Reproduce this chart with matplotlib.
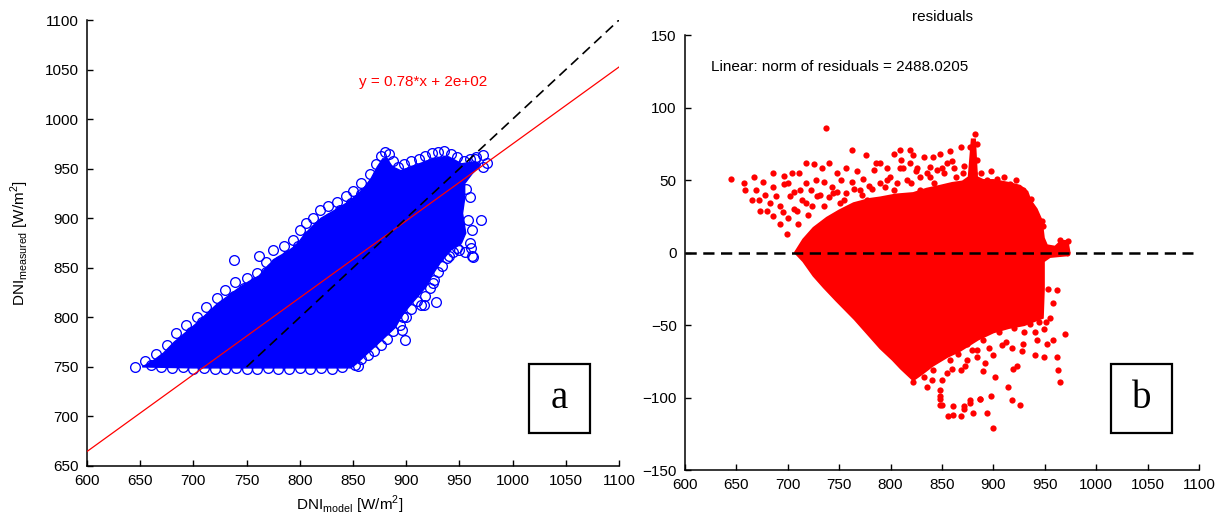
import matplotlib
matplotlib.use("Agg")
import matplotlib.pyplot as plt
from matplotlib.patches import Polygon, Rectangle

plt.rcParams['font.family'] = ['Liberation Sans', 'DejaVu Sans']
plt.rcParams['mathtext.fontset'] = 'custom'
plt.rcParams['mathtext.rm'] = 'Liberation Sans'

# ================= Panel (a): DNI measured vs model =================
x_ticks = [600, 650, 700, 750, 800, 850, 900, 950, 1000, 1050, 1100]
a_y_ticks = [650, 700, 750, 800, 850, 900, 950, 1000, 1050, 1100]

# outline of the solid (saturated) part of the cloud, (model, measured)
a_core = [(652, 750), (662, 756), (672, 764), (682, 775), (692, 784), (702, 793),
          (712, 803), (722, 813), (732, 821), (742, 829), (752, 836), (762, 842),
          (770, 852), (778, 860), (788, 866), (797, 873), (804, 883), (812, 892),
          (820, 900), (828, 905), (836, 910), (845, 916), (852, 922), (860, 930),
          (867, 940), (873, 952), (878, 960), (882, 960), (887, 952), (895, 948),
          (910, 954), (925, 960), (940, 962), (952, 955), (965, 957), (970, 954),
          (962, 945), (955, 935), (955, 920), (953, 905), (956, 885), (952, 875),
          (942, 868), (932, 855), (924, 842), (918, 830), (910, 820), (902, 810),
          (895, 800), (890, 790), (882, 782), (875, 775), (868, 768), (860, 760),
          (853, 753), (848, 749), (800, 749), (750, 749), (700, 749)]

# circles in the fringe above / left of the core
a_upper = [(645, 750), (655, 756), (665, 763), (675, 772), (684, 784), (693, 792),
           (703, 800), (712, 810), (722, 820), (730, 828), (739, 836), (738, 858),
           (750, 840), (760, 845), (762, 862), (768, 856), (775, 868), (785, 872),
           (794, 878), (800, 888), (806, 895), (812, 900), (819, 908), (827, 912),
           (835, 916), (843, 922), (850, 928), (858, 936), (866, 945), (872, 955),
           (876, 963), (880, 967), (884, 965), (888, 958), (892, 952), (898, 955),
           (905, 958), (912, 960), (918, 963), (924, 966), (930, 967), (936, 968),
           (942, 965), (948, 962), (954, 958), (960, 960), (966, 962), (972, 964),
           (660, 752), (670, 756), (680, 766), (690, 776), (698, 785), (708, 795),
           (718, 804), (728, 812), (738, 822), (748, 830), (758, 836), (768, 846),
           (778, 855), (788, 862), (798, 872), (808, 882), (818, 892), (828, 900),
           (838, 908), (848, 915), (858, 924), (868, 934), (874, 944), (880, 952),
           (885, 945)]

# circles along the bottom (measured ~ 750)
a_bottom = [(670, 750), (680, 749), (690, 750), (700, 748), (710, 749), (720, 748),
            (730, 748), (740, 749), (750, 748), (760, 748), (770, 749), (780, 748),
            (790, 748), (800, 749), (810, 748), (820, 749), (830, 748), (840, 750)]

# circles in the sparser fringe below / right of the core
a_lower = [(852, 752), (858, 758), (864, 762), (870, 766), (876, 772), (882, 778),
           (888, 786), (894, 792), (897, 800), (899, 777), (905, 808), (910, 816),
           (914, 812), (918, 822), (922, 830), (926, 838), (928, 815), (930, 846),
           (934, 852), (938, 860), (944, 866), (948, 870), (955, 866), (962, 862),
           (960, 875), (962, 888), (958, 898), (970, 898), (960, 921), (956, 930),
           (972, 952), (976, 956), (965, 960), (855, 751), (900, 800), (896, 787),
           (917, 812), (925, 835), (940, 862), (950, 868), (961, 870), (963, 861)]

fit_slope = 0.776
fit_intercept = 199.0
fit_x = [600, 1100]
one_to_one = [750, 1100]

# ================= Panel (b): residuals =================
b_y_ticks = [-150, -100, -50, 0, 50, 100, 150]

b_core = [(707, 0), (715, 9), (725, 17), (738, 24), (750, 29), (764, 34), (780, 37),
          (790, 38), (805, 40), (822, 41), (835, 44), (848, 46), (860, 48), (870, 49),
          (876, 52), (879, 78), (882, 78), (884, 52), (890, 50), (900, 50), (915, 48),
          (926, 46), (933, 42), (936, 36), (942, 30), (947, 22), (949, 10), (952, 5),
          (960, 4), (966, 8), (972, 8), (974, 0), (970, -2), (955, -3), (949, -6),
          (949, -25), (948, -45), (930, -50), (915, -52), (900, -55), (885, -60),
          (867, -68), (855, -72), (841, -78), (830, -84), (822, -88), (810, -80),
          (802, -74), (790, -66), (780, -58), (765, -46), (747, -33), (735, -24),
          (725, -16), (715, -6)]

b_upper = [(645, 51), (657, 48), (658, 43), (667, 52), (669, 43), (665, 36), (672, 36),
           (676, 49), (678, 40), (686, 55), (686, 45), (689, 39), (696, 53), (696, 47),
           (704, 55), (711, 55), (718, 62), (725, 61), (733, 58), (740, 62), (737, 86),
           (762, 71), (776, 67), (718, 48), (727, 50), (735, 49), (743, 45), (752, 50),
           (762, 49), (773, 51), (784, 57), (790, 62), (796, 58), (803, 68), (809, 71),
           (819, 71), (822, 67), (809, 58), (819, 62), (829, 52), (841, 66), (845, 57),
           (673, 29), (680, 29), (686, 25), (692, 20), (699, 13), (692, 32), (702, 39),
           (709, 29), (712, 43), (718, 34), (728, 39), (735, 32), (744, 41), (751, 34),
           (757, 41), (770, 43), (777, 36), (790, 48), (803, 43), (816, 50), (829, 43),
           (835, 55), (842, 48), (786, 62), (812, 58), (799, 52), (832, 66), (848, 68),
           (858, 70), (868, 73), (877, 73), (882, 82), (884, 75), (884, 64), (881, 55),
           (838, 59), (855, 62), (864, 52), (894, 50), (903, 51), (916, 47), (929, 43),
           (937, 37), (937, 32), (947, 22), (948, 18), (939, 7), (965, 9), (973, 8),
           (972, 0), (952, 0), (700, 48), (706, 42), (683, 34), (723, 43), (748, 55),
           (757, 58), (767, 56), (779, 46), (795, 45), (810, 64), (825, 56), (852, 55),
           (871, 60), (860, 63), (710, 20), (720, 26), (714, 36), (724, 32), (731, 40),
           (740, 38), (748, 42), (755, 36), (764, 44), (772, 40), (782, 44), (796, 50),
           (806, 48), (820, 48), (826, 58), (838, 52), (850, 58), (862, 58), (870, 55),
           (888, 55), (898, 56), (910, 52), (922, 50), (700, 24), (706, 30), (695, 28)]

b_lower = [(822, -89), (835, -93), (848, -95), (848, -101), (848, -105), (861, -106),
           (856, -113), (871, -106), (868, -113), (877, -102), (880, -111), (887, -101),
           (894, -111), (900, -121), (898, -99), (900, -71), (884, -67), (874, -74),
           (868, -81), (855, -83), (841, -81), (835, -76), (825, -74), (816, -79),
           (822, -67), (848, -70), (861, -65), (874, -63), (884, -56), (897, -49),
           (881, -49), (868, -53), (842, -60), (962, -26), (970, -56), (958, -60),
           (952, -63), (962, -72), (963, -81), (965, -89), (926, -105), (918, -102),
           (914, -93), (919, -80), (923, -78), (887, -101), (877, -104), (871, -108),
           (861, -112), (850, -105), (848, -99), (879, -67), (940, -71), (949, -72),
           (929, -63), (936, -49), (949, -53), (913, -47), (926, -48), (897, -40),
           (919, -40), (934, -42), (905, -55), (912, -62), (890, -60), (930, -55),
           (942, -60), (920, -52), (858, -74), (866, -70), (832, -86), (892, -76),
           (905, -48), (944, -48), (955, -45), (958, -35), (953, -25), (908, -64),
           (896, -66), (884, -72), (872, -78), (860, -80), (850, -88), (840, -88),
           (928, -68), (918, -66), (940, -55), (951, -48), (902, -86), (890, -82)]

b_zero_x = [600, 1094]
b_zero_y = [0, 0]


def unzip(pairs):
    return [p[0] for p in pairs], [p[1] for p in pairs]


# ================= Figure =================
fig = plt.figure(figsize=(12.23, 5.24), dpi=100)
ax1 = fig.add_axes([0.0711, 0.1107, 0.435, 0.851])
ax2 = fig.add_axes([0.5601, 0.103, 0.4203, 0.830])

blue = '#0000ff'
red = '#ff0000'

for ax in (ax1, ax2):
    for s in ('top', 'right'):
        ax.spines[s].set_visible(False)
    for s in ('left', 'bottom'):
        ax.spines[s].set_linewidth(1.1)
    ax.tick_params(direction='in', length=4, width=1.0, labelsize=11, pad=6)

# ---- Panel a ----
ax1.add_patch(Polygon(a_core, closed=True, facecolor=blue, edgecolor=blue,
                      lw=1.0, zorder=2))
for group in (a_upper, a_bottom, a_lower):
    gx, gy = unzip(group)
    ax1.plot(gx, gy, 'o', mfc='none', mec=blue, ms=7, mew=0.95, zorder=3)
ax1.plot(fit_x, [fit_slope * v + fit_intercept for v in fit_x], color=red, lw=0.9, zorder=4)
ax1.plot(one_to_one, one_to_one, color='black', lw=1.2, dashes=(6, 3.5), zorder=5)
ax1.set_xlim(600, 1100)
ax1.set_ylim(650, 1100)
ax1.set_xticks(x_ticks)
ax1.set_yticks(a_y_ticks)
ax1.text(916, 1037, 'y = 0.78*x + 2e+02', color=red, fontsize=11, ha='center', va='center')
ax1.set_xlabel(r'DNI$_{\mathregular{model}}$ [W/m$^{\mathregular{2}}$]', fontsize=11)
ax1.set_ylabel(r'DNI$_{\mathregular{measured}}$ [W/m$^{\mathregular{2}}$]', fontsize=11)
ax1.xaxis.set_label_coords(0.494, -0.062)
ax1.yaxis.set_label_coords(-0.105, 0.5)
ax1.add_patch(Rectangle((0.831, 0.074), 0.114, 0.155, transform=ax1.transAxes,
                        fill=False, edgecolor='black', lw=1.6, zorder=6))
ax1.text(0.888, 0.151, 'a', transform=ax1.transAxes, fontsize=28,
         family='Liberation Serif', ha='center', va='center')

# ---- Panel b ----
ax2.add_patch(Polygon(b_core, closed=True, facecolor=red, edgecolor=red,
                      lw=1.5, zorder=2))
for group in (b_upper, b_lower):
    gx, gy = unzip(group)
    ax2.plot(gx, gy, 'o', color=red, ms=4.5, mew=0, zorder=3)
ax2.plot(b_zero_x, b_zero_y, color='black', lw=1.8, dashes=(4.5, 2.6), zorder=5)
ax2.set_xlim(600, 1100)
ax2.set_ylim(-150, 150)
ax2.set_xticks(x_ticks)
ax2.set_yticks(b_y_ticks)
ax2.set_title('residuals', fontsize=11, pad=10)
ax2.text(625, 128, 'Linear: norm of residuals = 2488.0205', fontsize=11,
         ha='left', va='center')
ax2.add_patch(Rectangle((0.829, 0.085), 0.118, 0.159, transform=ax2.transAxes,
                        fill=False, edgecolor='black', lw=1.6, zorder=6))
ax2.text(0.888, 0.164, 'b', transform=ax2.transAxes, fontsize=28,
         family='Liberation Serif', ha='center', va='center')

fig.savefig('out.png', dpi=100)
